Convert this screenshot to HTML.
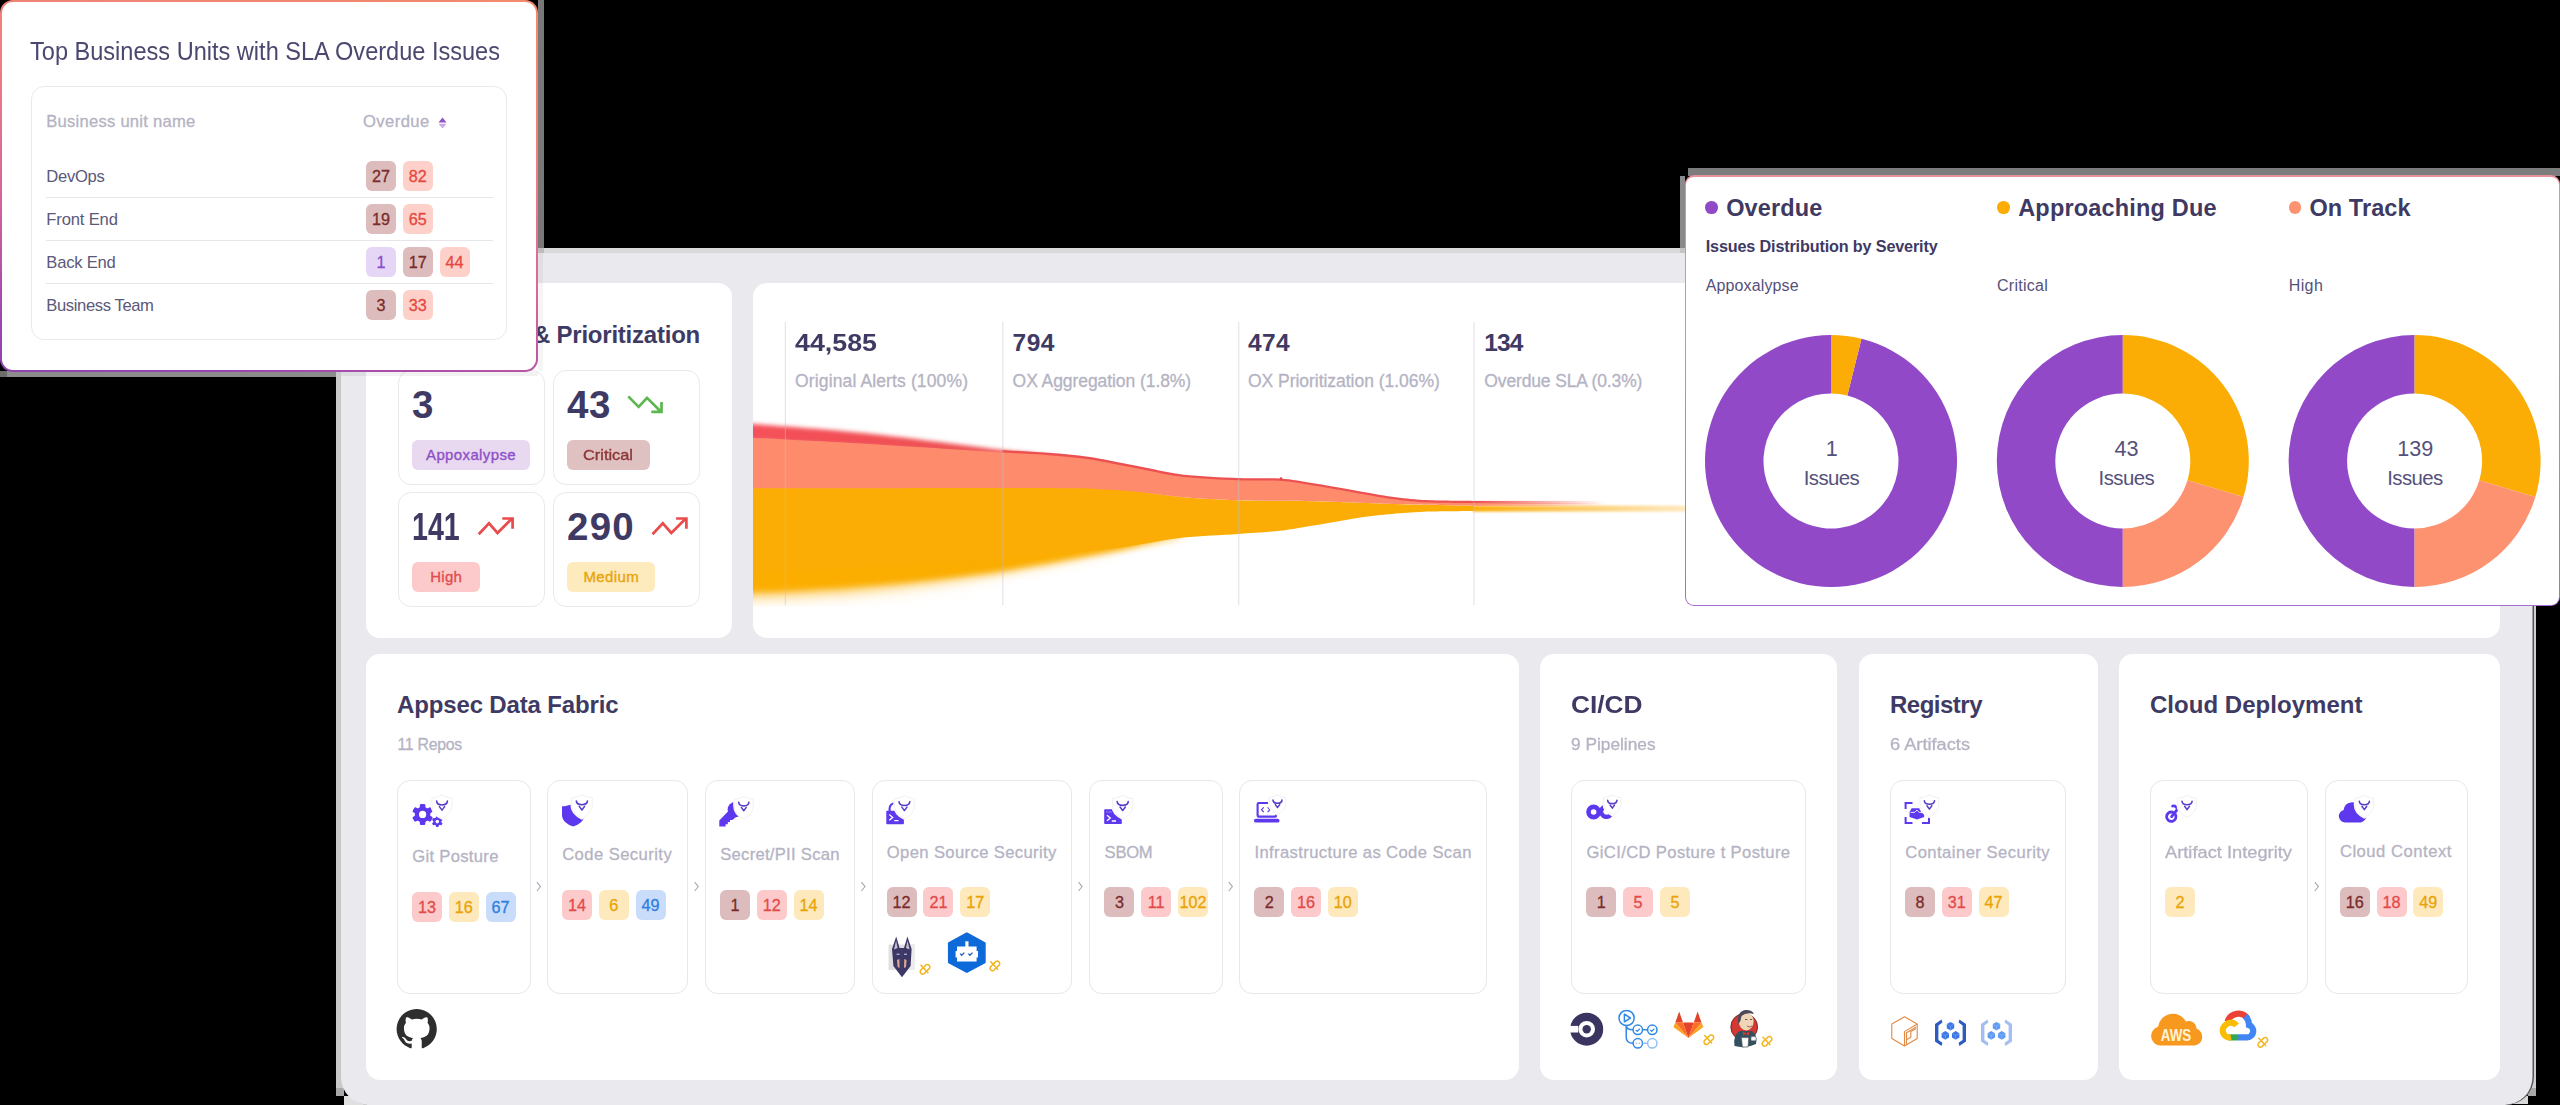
<!DOCTYPE html>
<html><head><meta charset="utf-8"><title>Dashboard</title>
<style>
html,body{margin:0;padding:0;background:#000;}
body{width:2560px;height:1105px;position:relative;overflow:hidden;font-family:"Liberation Sans",sans-serif;}
.t{position:absolute;white-space:nowrap;}
.b{position:absolute;}
.bd{position:absolute;border-radius:6px;text-align:center;}
svg{position:absolute;overflow:visible;}
</style></head><body>
<div class="b" style="left:336.0px;top:248.0px;width:14.0px;height:839.7px;background:#c9c9c9;"></div>
<div class="b" style="left:336.0px;top:1087.7px;width:7.5px;height:8.0px;background:#a8a8a8;"></div>
<div class="b" style="left:343.5px;top:1095.6px;width:28.0px;height:9.4px;background:#e0e0e0;"></div>
<div class="b" style="left:2522.0px;top:248.0px;width:14.0px;height:839.7px;background:#d0d0d0;"></div>
<div class="b" style="left:2528.0px;top:1087.7px;width:8.0px;height:8.0px;background:#a8a8a8;"></div>
<div class="b" style="left:2502.0px;top:1095.7px;width:26.0px;height:8.0px;background:#d8d8d8;"></div>
<div class="b" style="left:341.0px;top:248.0px;width:2193.5px;height:5.0px;background:#d9d9d9;"></div>
<div class="b" style="left:341.0px;top:252.5px;width:2193.0px;height:852.5px;background:#e9e9ee;border-radius:0 0 28px 28px;box-shadow:inset -1.5px 0 0 #55555a;"></div>
<div class="b" style="left:366.0px;top:283.0px;width:366.0px;height:355.0px;background:#fff;border-radius:14px;"></div>
<div class="t" style="left:533.0px;top:323.00px;font-size:24px;line-height:24px;color:#3e3a63;font-weight:bold;letter-spacing:-0.230px;">&amp; Prioritization</div>
<div class="b" style="left:397.5px;top:370.0px;width:147.5px;height:114.5px;background:#fff;border-radius:13px;border:1.5px solid #e9e9ee;box-sizing:border-box;"></div>
<div class="t" style="left:412.1px;top:386.00px;font-size:38.5px;line-height:38.5px;color:#3e3a63;font-weight:bold;letter-spacing:-1.413px;">3</div>
<div class="b" style="left:412.0px;top:439.5px;width:118.0px;height:30.0px;background:#e8d8f0;border-radius:6px;"></div>
<div class="t" style="left:426.0px;top:447.00px;font-size:15px;line-height:15px;color:#8f50c8;letter-spacing:0.373px;-webkit-text-stroke:0.35px #8f50c8;">Appoxalypse</div>
<div class="b" style="left:552.5px;top:370.0px;width:147.5px;height:114.5px;background:#fff;border-radius:13px;border:1.5px solid #e9e9ee;box-sizing:border-box;"></div>
<div class="t" style="left:567.1px;top:386.00px;font-size:38.5px;line-height:38.5px;color:#3e3a63;font-weight:bold;letter-spacing:0.387px;">43</div>
<div class="b" style="left:567.0px;top:439.5px;width:82.7px;height:30.0px;background:#e0c1c1;border-radius:6px;"></div>
<div class="t" style="left:583.4px;top:447.00px;font-size:15px;line-height:15px;color:#8b3636;transform:scaleX(1.0908);transform-origin:left center;-webkit-text-stroke:0.35px #8b3636;">Critical</div>
<div class="b" style="left:397.5px;top:492.0px;width:147.5px;height:114.5px;background:#fff;border-radius:13px;border:1.5px solid #e9e9ee;box-sizing:border-box;"></div>
<div class="t" style="left:412.1px;top:508.00px;font-size:38.5px;line-height:38.5px;color:#3e3a63;font-weight:bold;transform:scaleX(0.7441);transform-origin:left center;">141</div>
<div class="b" style="left:412.0px;top:561.5px;width:68.4px;height:30.0px;background:#fccaca;border-radius:6px;"></div>
<div class="t" style="left:430.2px;top:569.00px;font-size:15px;line-height:15px;color:#e14c4c;letter-spacing:0.287px;-webkit-text-stroke:0.35px #e14c4c;">High</div>
<div class="b" style="left:552.5px;top:492.0px;width:147.5px;height:114.5px;background:#fff;border-radius:13px;border:1.5px solid #e9e9ee;box-sizing:border-box;"></div>
<div class="t" style="left:567.1px;top:508.00px;font-size:38.5px;line-height:38.5px;color:#3e3a63;font-weight:bold;letter-spacing:1.187px;">290</div>
<div class="b" style="left:567.0px;top:561.5px;width:88.4px;height:30.0px;background:#fdeabd;border-radius:6px;"></div>
<div class="t" style="left:583.4px;top:569.00px;font-size:15px;line-height:15px;color:#e9a408;letter-spacing:0.391px;-webkit-text-stroke:0.35px #e9a408;">Medium</div>
<svg style="left:0;top:0" width="2560" height="1105" viewBox="0 0 2560 1105"><path d="M628.3 396.4 l10.3 10.5 l8.4 -9 l14 13.9 M651.3 411.79999999999995 h10.2 v-9.8" fill="none" stroke="#5cb84e" stroke-width="2.7" stroke-linejoin="miter"/><path d="M478.7 534.2 l10.3 -10.9 l8.5 9.7 l14.5 -14.5 M502.3 518.5 h10.3 v10.2" fill="none" stroke="#e84c4c" stroke-width="2.7" stroke-linejoin="miter"/><path d="M652.5 534.2 l10.3 -10.9 l8.5 9.7 l14.5 -14.5 M676.1 518.5 h10.3 v10.2" fill="none" stroke="#e84c4c" stroke-width="2.7" stroke-linejoin="miter"/></svg>
<div class="b" style="left:753.0px;top:283.0px;width:1747.0px;height:355.0px;background:#fff;border-radius:14px;"></div>
<div class="t" style="left:795.1px;top:331.00px;font-size:24.5px;line-height:24.5px;color:#3e3a63;font-weight:bold;transform:scaleX(1.0942);transform-origin:left center;">44,585</div>
<div class="t" style="left:795.1px;top:373.00px;font-size:17.5px;line-height:17.5px;color:#b4b3c3;letter-spacing:0.127px;-webkit-text-stroke:0.3px #b4b3c3;">Original Alerts (100%)</div>
<div class="t" style="left:1012.6px;top:331.00px;font-size:24.5px;line-height:24.5px;color:#3e3a63;font-weight:bold;letter-spacing:0.507px;">794</div>
<div class="t" style="left:1012.6px;top:373.00px;font-size:17.5px;line-height:17.5px;color:#b4b3c3;letter-spacing:-0.070px;-webkit-text-stroke:0.3px #b4b3c3;">OX Aggregation (1.8%)</div>
<div class="t" style="left:1248.0px;top:331.00px;font-size:24.5px;line-height:24.5px;color:#3e3a63;font-weight:bold;letter-spacing:0.374px;">474</div>
<div class="t" style="left:1248.0px;top:373.00px;font-size:17.5px;line-height:17.5px;color:#b4b3c3;letter-spacing:-0.035px;-webkit-text-stroke:0.3px #b4b3c3;">OX Prioritization (1.06%)</div>
<div class="t" style="left:1484.3px;top:331.00px;font-size:24.5px;line-height:24.5px;color:#3e3a63;font-weight:bold;letter-spacing:-0.893px;">134</div>
<div class="t" style="left:1484.3px;top:373.00px;font-size:17.5px;line-height:17.5px;color:#b4b3c3;letter-spacing:-0.139px;-webkit-text-stroke:0.3px #b4b3c3;">Overdue SLA (0.3%)</div>
<div class="b" style="left:366.0px;top:653.5px;width:1153.0px;height:426.5px;background:#fff;border-radius:14px;"></div>
<div class="b" style="left:1540.0px;top:653.5px;width:297.0px;height:426.5px;background:#fff;border-radius:14px;"></div>
<div class="b" style="left:1859.0px;top:653.5px;width:238.5px;height:426.5px;background:#fff;border-radius:14px;"></div>
<div class="b" style="left:2119.3px;top:653.5px;width:380.7px;height:426.5px;background:#fff;border-radius:14px;"></div>
<div class="t" style="left:397.0px;top:693.00px;font-size:24px;line-height:24px;color:#3e3a63;font-weight:bold;letter-spacing:-0.143px;">Appsec Data Fabric</div>
<div class="t" style="left:397.5px;top:737.00px;font-size:15.8px;line-height:15.8px;color:#b4b3c3;letter-spacing:-0.246px;-webkit-text-stroke:0.3px #b4b3c3;">11 Repos</div>
<div class="t" style="left:1571.3px;top:693.00px;font-size:24px;line-height:24px;color:#3e3a63;font-weight:bold;transform:scaleX(1.0959);transform-origin:left center;">CI/CD</div>
<div class="t" style="left:1571.3px;top:737.00px;font-size:15.8px;line-height:15.8px;color:#b4b3c3;transform:scaleX(1.0945);transform-origin:left center;-webkit-text-stroke:0.3px #b4b3c3;">9 Pipelines</div>
<div class="t" style="left:1890.0px;top:693.00px;font-size:24px;line-height:24px;color:#3e3a63;font-weight:bold;letter-spacing:-0.505px;">Registry</div>
<div class="t" style="left:1890.0px;top:737.00px;font-size:15.8px;line-height:15.8px;color:#b4b3c3;transform:scaleX(1.1532);transform-origin:left center;-webkit-text-stroke:0.3px #b4b3c3;">6 Artifacts</div>
<div class="t" style="left:2150.0px;top:693.00px;font-size:24px;line-height:24px;color:#3e3a63;font-weight:bold;letter-spacing:0.037px;">Cloud Deployment</div>
<div class="b" style="left:397.0px;top:779.7px;width:133.7px;height:214.0px;background:#fff;border-radius:13px;border:1.5px solid #e7e7ec;box-sizing:border-box;"></div>
<div class="t" style="left:412.2px;top:849.00px;font-size:16.6px;line-height:16.6px;color:#b4b3c3;letter-spacing:0.324px;-webkit-text-stroke:0.3px #b4b3c3;">Git Posture</div>
<div class="bd" style="left:412.0px;top:891.5px;width:30px;height:30px;line-height:31.6px;background:#fccaca;color:#e24a4a;font-size:16.2px;-webkit-text-stroke:0.3px #e24a4a">13</div>
<div class="bd" style="left:448.8px;top:891.5px;width:30px;height:30px;line-height:31.6px;background:#fde9bb;color:#e9a306;font-size:16.2px;-webkit-text-stroke:0.3px #e9a306">16</div>
<div class="bd" style="left:485.6px;top:891.5px;width:30px;height:30px;line-height:31.6px;background:#c9dcfa;color:#2e7fe0;font-size:16.2px;-webkit-text-stroke:0.3px #2e7fe0">67</div>
<div class="b" style="left:547.0px;top:779.7px;width:141.0px;height:214.0px;background:#fff;border-radius:13px;border:1.5px solid #e7e7ec;box-sizing:border-box;"></div>
<div class="t" style="left:562.2px;top:847.00px;font-size:16.6px;line-height:16.6px;color:#b4b3c3;letter-spacing:0.441px;-webkit-text-stroke:0.3px #b4b3c3;">Code Security</div>
<div class="bd" style="left:562.0px;top:890.0px;width:30px;height:30px;line-height:31.6px;background:#fccaca;color:#e24a4a;font-size:16.2px;-webkit-text-stroke:0.3px #e24a4a">14</div>
<div class="bd" style="left:598.8px;top:890.0px;width:30px;height:30px;line-height:31.6px;background:#fde9bb;color:#e9a306;font-size:16.2px;-webkit-text-stroke:0.3px #e9a306">6</div>
<div class="bd" style="left:635.6px;top:890.0px;width:30px;height:30px;line-height:31.6px;background:#c9dcfa;color:#2e7fe0;font-size:16.2px;-webkit-text-stroke:0.3px #2e7fe0">49</div>
<div class="b" style="left:705.0px;top:779.7px;width:149.7px;height:214.0px;background:#fff;border-radius:13px;border:1.5px solid #e7e7ec;box-sizing:border-box;"></div>
<div class="t" style="left:720.2px;top:847.00px;font-size:16.6px;line-height:16.6px;color:#b4b3c3;letter-spacing:0.284px;-webkit-text-stroke:0.3px #b4b3c3;">Secret/PII Scan</div>
<div class="bd" style="left:720.0px;top:890.0px;width:30px;height:30px;line-height:31.6px;background:#dcbcbc;color:#7b2b2b;font-size:16.2px;-webkit-text-stroke:0.3px #7b2b2b">1</div>
<div class="bd" style="left:756.8px;top:890.0px;width:30px;height:30px;line-height:31.6px;background:#fccaca;color:#e24a4a;font-size:16.2px;-webkit-text-stroke:0.3px #e24a4a">12</div>
<div class="bd" style="left:793.6px;top:890.0px;width:30px;height:30px;line-height:31.6px;background:#fde9bb;color:#e9a306;font-size:16.2px;-webkit-text-stroke:0.3px #e9a306">14</div>
<div class="b" style="left:871.6px;top:779.7px;width:200.9px;height:214.0px;background:#fff;border-radius:13px;border:1.5px solid #e7e7ec;box-sizing:border-box;"></div>
<div class="t" style="left:886.8px;top:845.00px;font-size:16.6px;line-height:16.6px;color:#b4b3c3;letter-spacing:0.380px;-webkit-text-stroke:0.3px #b4b3c3;">Open Source Security</div>
<div class="bd" style="left:886.6px;top:887.0px;width:30px;height:30px;line-height:31.6px;background:#dcbcbc;color:#7b2b2b;font-size:16.2px;-webkit-text-stroke:0.3px #7b2b2b">12</div>
<div class="bd" style="left:923.4px;top:887.0px;width:30px;height:30px;line-height:31.6px;background:#fccaca;color:#e24a4a;font-size:16.2px;-webkit-text-stroke:0.3px #e24a4a">21</div>
<div class="bd" style="left:960.2px;top:887.0px;width:30px;height:30px;line-height:31.6px;background:#fde9bb;color:#e9a306;font-size:16.2px;-webkit-text-stroke:0.3px #e9a306">17</div>
<div class="b" style="left:1089.4px;top:779.7px;width:133.4px;height:214.0px;background:#fff;border-radius:13px;border:1.5px solid #e7e7ec;box-sizing:border-box;"></div>
<div class="t" style="left:1104.6px;top:845.00px;font-size:16.6px;line-height:16.6px;color:#b4b3c3;letter-spacing:-0.271px;-webkit-text-stroke:0.3px #b4b3c3;">SBOM</div>
<div class="bd" style="left:1104.4px;top:887.0px;width:30px;height:30px;line-height:31.6px;background:#dcbcbc;color:#7b2b2b;font-size:16.2px;-webkit-text-stroke:0.3px #7b2b2b">3</div>
<div class="bd" style="left:1141.2px;top:887.0px;width:30px;height:30px;line-height:31.6px;background:#fccaca;color:#e24a4a;font-size:16.2px;-webkit-text-stroke:0.3px #e24a4a">11</div>
<div class="bd" style="left:1178.0px;top:887.0px;width:30px;height:30px;line-height:31.6px;background:#fde9bb;color:#e9a306;font-size:16.2px;-webkit-text-stroke:0.3px #e9a306">102</div>
<div class="b" style="left:1239.2px;top:779.7px;width:248.3px;height:214.0px;background:#fff;border-radius:13px;border:1.5px solid #e7e7ec;box-sizing:border-box;"></div>
<div class="t" style="left:1254.4px;top:845.00px;font-size:16.6px;line-height:16.6px;color:#b4b3c3;letter-spacing:0.401px;-webkit-text-stroke:0.3px #b4b3c3;">Infrastructure as Code Scan</div>
<div class="bd" style="left:1254.2px;top:887.0px;width:30px;height:30px;line-height:31.6px;background:#dcbcbc;color:#7b2b2b;font-size:16.2px;-webkit-text-stroke:0.3px #7b2b2b">2</div>
<div class="bd" style="left:1291.0px;top:887.0px;width:30px;height:30px;line-height:31.6px;background:#fccaca;color:#e24a4a;font-size:16.2px;-webkit-text-stroke:0.3px #e24a4a">16</div>
<div class="bd" style="left:1327.8px;top:887.0px;width:30px;height:30px;line-height:31.6px;background:#fde9bb;color:#e9a306;font-size:16.2px;-webkit-text-stroke:0.3px #e9a306">10</div>
<div class="b" style="left:1571.3px;top:779.7px;width:234.3px;height:214.0px;background:#fff;border-radius:13px;border:1.5px solid #e7e7ec;box-sizing:border-box;"></div>
<div class="t" style="left:1586.5px;top:845.00px;font-size:16.6px;line-height:16.6px;color:#b4b3c3;letter-spacing:0.374px;-webkit-text-stroke:0.3px #b4b3c3;">GiCI/CD Posture t Posture</div>
<div class="bd" style="left:1586.3px;top:887.0px;width:30px;height:30px;line-height:31.6px;background:#dcbcbc;color:#7b2b2b;font-size:16.2px;-webkit-text-stroke:0.3px #7b2b2b">1</div>
<div class="bd" style="left:1623.1px;top:887.0px;width:30px;height:30px;line-height:31.6px;background:#fccaca;color:#e24a4a;font-size:16.2px;-webkit-text-stroke:0.3px #e24a4a">5</div>
<div class="bd" style="left:1659.9px;top:887.0px;width:30px;height:30px;line-height:31.6px;background:#fde9bb;color:#e9a306;font-size:16.2px;-webkit-text-stroke:0.3px #e9a306">5</div>
<div class="b" style="left:1890.0px;top:779.7px;width:176.0px;height:214.0px;background:#fff;border-radius:13px;border:1.5px solid #e7e7ec;box-sizing:border-box;"></div>
<div class="t" style="left:1905.2px;top:845.00px;font-size:16.6px;line-height:16.6px;color:#b4b3c3;letter-spacing:0.469px;-webkit-text-stroke:0.3px #b4b3c3;">Container Security</div>
<div class="bd" style="left:1905.0px;top:887.0px;width:30px;height:30px;line-height:31.6px;background:#dcbcbc;color:#7b2b2b;font-size:16.2px;-webkit-text-stroke:0.3px #7b2b2b">8</div>
<div class="bd" style="left:1941.8px;top:887.0px;width:30px;height:30px;line-height:31.6px;background:#fccaca;color:#e24a4a;font-size:16.2px;-webkit-text-stroke:0.3px #e24a4a">31</div>
<div class="bd" style="left:1978.6px;top:887.0px;width:30px;height:30px;line-height:31.6px;background:#fde9bb;color:#e9a306;font-size:16.2px;-webkit-text-stroke:0.3px #e9a306">47</div>
<div class="b" style="left:2150.0px;top:779.7px;width:158.0px;height:214.0px;background:#fff;border-radius:13px;border:1.5px solid #e7e7ec;box-sizing:border-box;"></div>
<div class="t" style="left:2165.2px;top:845.00px;font-size:16.6px;line-height:16.6px;color:#b4b3c3;transform:scaleX(1.1013);transform-origin:left center;-webkit-text-stroke:0.3px #b4b3c3;">Artifact Integrity</div>
<div class="bd" style="left:2165.0px;top:887.0px;width:30px;height:30px;line-height:31.6px;background:#fde9bb;color:#e9a306;font-size:16.2px;-webkit-text-stroke:0.3px #e9a306">2</div>
<div class="b" style="left:2324.7px;top:779.7px;width:143.8px;height:214.0px;background:#fff;border-radius:13px;border:1.5px solid #e7e7ec;box-sizing:border-box;"></div>
<div class="t" style="left:2339.9px;top:844.00px;font-size:16.6px;line-height:16.6px;color:#b4b3c3;letter-spacing:0.523px;-webkit-text-stroke:0.3px #b4b3c3;">Cloud Context</div>
<div class="bd" style="left:2339.7px;top:886.5px;width:30px;height:30px;line-height:31.6px;background:#dcbcbc;color:#7b2b2b;font-size:16.2px;-webkit-text-stroke:0.3px #7b2b2b">16</div>
<div class="bd" style="left:2376.5px;top:886.5px;width:30px;height:30px;line-height:31.6px;background:#fccaca;color:#e24a4a;font-size:16.2px;-webkit-text-stroke:0.3px #e24a4a">18</div>
<div class="bd" style="left:2413.3px;top:886.5px;width:30px;height:30px;line-height:31.6px;background:#fde9bb;color:#e9a306;font-size:16.2px;-webkit-text-stroke:0.3px #e9a306">49</div>
<svg style="left:0;top:0" width="2560" height="1105" viewBox="0 0 2560 1105"><path d="M536.9 882.2 l3.6 4.4 l-3.6 4.4" fill="none" stroke="#a9a9b4" stroke-width="1.1"/><path d="M694.7 882.2 l3.6 4.4 l-3.6 4.4" fill="none" stroke="#a9a9b4" stroke-width="1.1"/><path d="M861.4 882.2 l3.6 4.4 l-3.6 4.4" fill="none" stroke="#a9a9b4" stroke-width="1.1"/><path d="M1078.5 882.2 l3.6 4.4 l-3.6 4.4" fill="none" stroke="#a9a9b4" stroke-width="1.1"/><path d="M1228.8 882.2 l3.6 4.4 l-3.6 4.4" fill="none" stroke="#a9a9b4" stroke-width="1.1"/><path d="M2314.8 882.2 l3.6 4.4 l-3.6 4.4" fill="none" stroke="#a9a9b4" stroke-width="1.1"/></svg>
<svg style="left:0;top:0" width="2560" height="1105" viewBox="0 0 2560 1105"><defs>
<filter id="bl6" x="-5%" y="-40%" width="110%" height="180%"><feGaussianBlur stdDeviation="11"/></filter>
<filter id="bl5" x="-5%" y="-40%" width="110%" height="180%"><feGaussianBlur stdDeviation="6.5"/></filter>
<filter id="bl3" x="-5%" y="-30%" width="110%" height="160%"><feGaussianBlur stdDeviation="3.2"/></filter>
<filter id="bl2" x="-5%" y="-50%" width="110%" height="200%"><feGaussianBlur stdDeviation="2.2"/></filter>
<filter id="bl1" x="-5%" y="-50%" width="110%" height="200%"><feGaussianBlur stdDeviation="0.8"/></filter>
<linearGradient id="mgA" x1="840" x2="1010" gradientUnits="userSpaceOnUse"><stop offset="0" stop-color="#fff"/><stop offset="1" stop-color="#000"/></linearGradient>
<linearGradient id="mgB" x1="1130" x2="1200" gradientUnits="userSpaceOnUse"><stop offset="0" stop-color="#fff"/><stop offset="1" stop-color="#000"/></linearGradient>
<mask id="mA" maskUnits="userSpaceOnUse" x="700" y="380" width="1000" height="280"><rect x="700" y="380" width="1000" height="280" fill="url(#mgA)"/></mask>
<linearGradient id="mgC" x1="1000" x2="1130" gradientUnits="userSpaceOnUse"><stop offset="0" stop-color="#fff"/><stop offset="1" stop-color="#000"/></linearGradient>
<mask id="mC" maskUnits="userSpaceOnUse" x="700" y="380" width="1000" height="280"><rect x="700" y="380" width="1000" height="280" fill="url(#mgC)"/></mask>
<mask id="mB" maskUnits="userSpaceOnUse" x="700" y="380" width="1000" height="280"><rect x="700" y="380" width="1000" height="280" fill="url(#mgB)"/></mask>
<clipPath id="cpAll"><rect x="753" y="400" width="940" height="206.5"/></clipPath>
<linearGradient id="fadeO" x1="1474" x2="1690" gradientUnits="userSpaceOnUse"><stop offset="0" stop-color="#fbad05" stop-opacity="1"/><stop offset="0.35" stop-color="#fbb526" stop-opacity="0.8"/><stop offset="1" stop-color="#fcc24d" stop-opacity="0.35"/></linearGradient>
<linearGradient id="fadeR" x1="1474" x2="1605" gradientUnits="userSpaceOnUse"><stop offset="0" stop-color="#ec5050" stop-opacity="1"/><stop offset="1" stop-color="#ec5050" stop-opacity="0"/></linearGradient>
<linearGradient id="fadeS" x1="1474" x2="1605" gradientUnits="userSpaceOnUse"><stop offset="0" stop-color="#fe8c6c" stop-opacity="1"/><stop offset="1" stop-color="#fe8c6c" stop-opacity="0"/></linearGradient>
<linearGradient id="redw" x1="753" x2="1010" gradientUnits="userSpaceOnUse"><stop offset="0" stop-color="#f5515a"/><stop offset="1" stop-color="#ec4f4f"/></linearGradient>
</defs><g clip-path="url(#cpAll)"><g mask="url(#mB)"><path d="M715.0 474.2 C721.3 474.2 722.2 474.2 753.0 474.2 C783.8 474.2 848.8 474.2 900.0 474.2 C951.2 474.2 1026.7 474.0 1060.0 474.2 C1093.3 474.4 1086.7 474.6 1100.0 475.2 C1113.3 475.8 1126.0 476.6 1140.0 478.0 C1154.0 479.4 1176.7 482.4 1184.0 483.3 L1184.0 538.5 C1176.7 539.8 1154.0 543.9 1140.0 546.5 C1126.0 549.1 1123.0 550.1 1100.0 554.0 C1077.0 557.9 1035.3 565.4 1002.0 570.0 C968.7 574.6 936.2 578.3 900.0 581.5 C863.8 584.7 809.5 587.6 785.0 589.0 C760.5 590.4 764.7 589.6 753.0 590.0 C741.3 590.4 721.3 591.0 715.0 591.2Z" fill="#fbad05" filter="url(#bl3)"/></g><g mask="url(#mC)"><path d="M715.0 474.2 C721.3 474.2 722.2 474.2 753.0 474.2 C783.8 474.2 848.8 474.2 900.0 474.2 C951.2 474.2 1026.7 474.0 1060.0 474.2 C1093.3 474.4 1086.7 474.6 1100.0 475.2 C1113.3 475.8 1126.0 476.6 1140.0 478.0 C1154.0 479.4 1176.7 482.4 1184.0 483.3 L1184.0 538.5 C1176.7 539.8 1154.0 543.9 1140.0 546.5 C1126.0 549.1 1123.0 550.1 1100.0 554.0 C1077.0 557.9 1035.3 565.4 1002.0 570.0 C968.7 574.6 936.2 578.3 900.0 581.5 C863.8 584.7 809.5 587.6 785.0 589.0 C760.5 590.4 764.7 589.6 753.0 590.0 C741.3 590.4 721.3 591.0 715.0 591.2Z" fill="#fbad05" filter="url(#bl5)"/></g><g mask="url(#mA)"><path d="M715.0 474.2 C721.3 474.2 722.2 474.2 753.0 474.2 C783.8 474.2 848.8 474.2 900.0 474.2 C951.2 474.2 1026.7 474.0 1060.0 474.2 C1093.3 474.4 1086.7 474.6 1100.0 475.2 C1113.3 475.8 1126.0 476.6 1140.0 478.0 C1154.0 479.4 1176.7 482.4 1184.0 483.3 L1184.0 538.5 C1176.7 539.8 1154.0 543.9 1140.0 546.5 C1126.0 549.1 1123.0 550.1 1100.0 554.0 C1077.0 557.9 1035.3 565.4 1002.0 570.0 C968.7 574.6 936.2 578.3 900.0 581.5 C863.8 584.7 809.5 587.6 785.0 589.0 C760.5 590.4 764.7 589.6 753.0 590.0 C741.3 590.4 721.3 591.0 715.0 591.2Z" fill="#fbad05" filter="url(#bl6)"/></g><path d="M753.0 488.2 C777.5 488.2 848.8 488.2 900.0 488.2 C951.2 488.2 1026.7 488.0 1060.0 488.2 C1093.3 488.4 1086.7 488.6 1100.0 489.2 C1113.3 489.8 1126.0 490.6 1140.0 492.0 C1154.0 493.4 1167.7 495.9 1184.0 497.3 C1200.3 498.7 1216.2 499.5 1238.0 500.2 C1259.8 500.9 1294.8 500.9 1315.0 501.3 C1335.2 501.7 1344.5 502.3 1359.0 502.8 C1373.5 503.3 1387.5 503.9 1402.0 504.3 C1416.5 504.7 1434.0 505.0 1446.0 505.2 C1458.0 505.4 1469.3 505.5 1474.0 505.6 L1474.0 511.1 C1465.7 511.2 1437.7 511.3 1424.0 511.8 C1410.3 512.3 1402.8 513.0 1392.0 514.0 C1381.2 515.0 1371.8 515.8 1359.0 517.7 C1346.2 519.6 1328.2 523.1 1315.0 525.3 C1301.8 527.5 1292.8 529.3 1280.0 530.8 C1267.2 532.2 1254.0 532.9 1238.0 534.0 C1222.0 535.1 1200.3 535.9 1184.0 537.6 C1167.7 539.4 1154.0 542.4 1140.0 544.5 C1126.0 546.6 1123.0 547.7 1100.0 550.0 C1077.0 552.3 1035.3 556.0 1002.0 558.5 C968.7 561.0 936.2 562.9 900.0 565.0 C863.8 567.1 809.5 569.8 785.0 571.0 C760.5 572.2 758.3 571.8 753.0 572.0Z" fill="#fbad05"/><rect x="1473" y="505.6" width="213" height="6" fill="url(#fadeO)" filter="url(#bl1)"/><path d="M715.0 421.3 C721.3 421.7 741.3 423.2 753.0 424.0 C764.7 424.8 764.3 424.6 785.0 426.3 C805.7 428.1 840.8 430.6 877.0 434.5 C913.2 438.4 971.5 446.3 1002.0 450.0 C1032.5 453.7 1050.3 455.6 1060.0 456.7 L1048.0 458.2 C1040.3 457.8 1030.5 457.3 1002.0 455.5 C973.5 453.7 913.2 449.7 877.0 447.5 C840.8 445.3 805.7 443.6 785.0 442.5 C764.3 441.4 764.7 441.5 753.0 441.0 C741.3 440.5 721.3 439.5 715.0 439.2Z" fill="url(#redw)" filter="url(#bl2)"/><path d="M1002.0 450.0 C1009.7 450.5 1033.7 451.7 1048.0 452.8 C1062.3 453.9 1076.3 455.2 1088.0 456.8 C1099.7 458.4 1107.7 460.3 1118.0 462.3 C1128.3 464.3 1139.0 466.5 1150.0 468.6 C1161.0 470.7 1169.3 473.2 1184.0 474.8 C1198.7 476.4 1222.0 477.5 1238.0 478.1 C1254.0 478.7 1267.2 477.7 1280.0 478.6 C1292.8 479.5 1301.8 481.5 1315.0 483.6 C1328.2 485.7 1346.2 489.1 1359.0 491.3 C1371.8 493.5 1381.2 495.4 1392.0 496.8 C1402.8 498.2 1410.3 499.3 1424.0 500.0 C1437.7 500.7 1465.7 500.8 1474.0 500.9 L1474.0 504.0 C1465.7 503.9 1437.7 503.9 1424.0 503.2 C1410.3 502.5 1402.8 501.4 1392.0 500.0 C1381.2 498.6 1371.8 496.7 1359.0 494.5 C1346.2 492.3 1328.2 488.9 1315.0 486.8 C1301.8 484.7 1292.8 482.7 1280.0 481.8 C1267.2 480.9 1254.0 481.9 1238.0 481.3 C1222.0 480.7 1198.7 479.6 1184.0 478.0 C1169.3 476.4 1161.0 474.1 1150.0 472.0 C1139.0 469.9 1128.3 467.7 1118.0 465.7 C1107.7 463.7 1099.7 461.8 1088.0 460.2 C1076.3 458.6 1062.3 457.3 1048.0 456.2 C1033.7 455.1 1009.7 453.9 1002.0 453.5Z" fill="#ec5050"/><rect x="1473" y="500.9" width="132" height="3" fill="url(#fadeR)"/><path d="M753.0 438.0 C758.3 438.2 764.3 438.4 785.0 439.5 C805.7 440.6 840.8 442.3 877.0 444.5 C913.2 446.7 973.5 450.7 1002.0 452.5 C1030.5 454.3 1033.7 454.1 1048.0 455.2 C1062.3 456.3 1076.3 457.6 1088.0 459.2 C1099.7 460.8 1107.7 462.7 1118.0 464.7 C1128.3 466.7 1139.0 468.9 1150.0 471.0 C1161.0 473.1 1169.3 475.4 1184.0 477.0 C1198.7 478.6 1222.0 479.7 1238.0 480.3 C1254.0 480.9 1267.2 479.9 1280.0 480.8 C1292.8 481.7 1301.8 483.7 1315.0 485.8 C1328.2 487.9 1346.2 491.3 1359.0 493.5 C1371.8 495.7 1381.2 497.6 1392.0 499.0 C1402.8 500.4 1410.3 501.5 1424.0 502.2 C1437.7 502.9 1465.7 502.9 1474.0 503.0 L1474.0 505.6 C1469.3 505.5 1458.0 505.4 1446.0 505.2 C1434.0 505.0 1416.5 504.7 1402.0 504.3 C1387.5 503.9 1373.5 503.3 1359.0 502.8 C1344.5 502.3 1335.2 501.7 1315.0 501.3 C1294.8 500.9 1259.8 500.9 1238.0 500.2 C1216.2 499.5 1200.3 498.7 1184.0 497.3 C1167.7 495.9 1154.0 493.4 1140.0 492.0 C1126.0 490.6 1113.3 489.8 1100.0 489.2 C1086.7 488.6 1093.3 488.4 1060.0 488.2 C1026.7 488.0 951.2 488.2 900.0 488.2 C848.8 488.2 777.5 488.2 753.0 488.2Z" fill="#fe8c6c"/><rect x="1473" y="503" width="132" height="2.8" fill="url(#fadeS)"/><circle cx="1281" cy="478.6" r="1.3" fill="#e04848"/></g><rect x="784.8" y="322" width="1.2" height="283" fill="#bfbfcc" opacity="0.42"/><rect x="1002.1999999999999" y="322" width="1.2" height="283" fill="#bfbfcc" opacity="0.42"/><rect x="1238.1000000000001" y="322" width="1.2" height="283" fill="#bfbfcc" opacity="0.42"/><rect x="1473.4" y="322" width="1.2" height="283" fill="#bfbfcc" opacity="0.42"/></svg>
<svg style="left:0;top:0" width="2560" height="1105" viewBox="0 0 2560 1105"><circle cx="422.6" cy="814.4" r="7.77" fill="#5d38ee"/><rect x="419.87" y="803.90" width="5.46" height="6.30" rx="1.26" fill="#5d38ee" transform="rotate(0.0 422.6 814.4)"/><rect x="419.87" y="803.90" width="5.46" height="6.30" rx="1.26" fill="#5d38ee" transform="rotate(60.0 422.6 814.4)"/><rect x="419.87" y="803.90" width="5.46" height="6.30" rx="1.26" fill="#5d38ee" transform="rotate(120.0 422.6 814.4)"/><rect x="419.87" y="803.90" width="5.46" height="6.30" rx="1.26" fill="#5d38ee" transform="rotate(180.0 422.6 814.4)"/><rect x="419.87" y="803.90" width="5.46" height="6.30" rx="1.26" fill="#5d38ee" transform="rotate(240.0 422.6 814.4)"/><rect x="419.87" y="803.90" width="5.46" height="6.30" rx="1.26" fill="#5d38ee" transform="rotate(300.0 422.6 814.4)"/><circle cx="422.6" cy="814.4" r="3.6" fill="#fff"/><circle cx="437.3" cy="821.6" r="4.00" fill="#5d38ee"/><rect x="435.90" y="816.20" width="2.81" height="3.24" rx="0.65" fill="#5d38ee" transform="rotate(0.0 437.3 821.6)"/><rect x="435.90" y="816.20" width="2.81" height="3.24" rx="0.65" fill="#5d38ee" transform="rotate(60.0 437.3 821.6)"/><rect x="435.90" y="816.20" width="2.81" height="3.24" rx="0.65" fill="#5d38ee" transform="rotate(120.0 437.3 821.6)"/><rect x="435.90" y="816.20" width="2.81" height="3.24" rx="0.65" fill="#5d38ee" transform="rotate(180.0 437.3 821.6)"/><rect x="435.90" y="816.20" width="2.81" height="3.24" rx="0.65" fill="#5d38ee" transform="rotate(240.0 437.3 821.6)"/><rect x="435.90" y="816.20" width="2.81" height="3.24" rx="0.65" fill="#5d38ee" transform="rotate(300.0 437.3 821.6)"/><circle cx="437.3" cy="821.6" r="1.8" fill="#fff"/><path d="M442.00 794.70 C445.20 796.84 449.00 797.79 452.00 797.91 L452.00 805.17 C452.00 811.84 446.80 816.12 442.00 818.50 C437.20 816.12 432.00 811.84 432.00 805.17 L432.00 797.91 C435.00 797.79 438.80 796.84 442.00 794.70Z" fill="#fff" stroke="#fff" stroke-width="2.4"/><path d="M442.00 794.70 C445.20 796.84 449.00 797.79 452.00 797.91 L452.00 805.17 C452.00 811.84 446.80 816.12 442.00 818.50 C437.20 816.12 432.00 811.84 432.00 805.17 L432.00 797.91 C435.00 797.79 438.80 796.84 442.00 794.70Z" fill="#fff" stroke="#eeeef0" stroke-width="0.9"/><path d="M436.60 801.13 C436.80 803.74 439.20 804.93 442.00 804.93 C444.80 804.93 447.20 803.74 447.40 801.13" fill="none" stroke="#5a3cc8" stroke-width="1.6" stroke-linecap="round"/><path d="M439.40 806.60 L442.00 810.17 L444.60 806.60" fill="none" stroke="#5a3cc8" stroke-width="1.5" stroke-linecap="round" stroke-linejoin="round"/><path d="M573.20 803.40 C576.78 805.24 581.04 806.16 584.40 806.27 L584.40 814.90 C584.40 821.34 578.13 824.79 573.20 826.40 C568.27 824.79 562.00 821.34 562.00 814.90 L562.00 806.27 C565.36 806.16 569.62 805.24 573.20 803.40Z" fill="#5d38ee"/><path d="M581.90 794.50 C585.20 796.64 589.11 797.59 592.20 797.71 L592.20 804.97 C592.20 811.64 586.84 815.92 581.90 818.30 C576.96 815.92 571.60 811.64 571.60 804.97 L571.60 797.71 C574.69 797.59 578.60 796.64 581.90 794.50Z" fill="#fff" stroke="#fff" stroke-width="2.4"/><path d="M581.90 794.50 C585.20 796.64 589.11 797.59 592.20 797.71 L592.20 804.97 C592.20 811.64 586.84 815.92 581.90 818.30 C576.96 815.92 571.60 811.64 571.60 804.97 L571.60 797.71 C574.69 797.59 578.60 796.64 581.90 794.50Z" fill="#fff" stroke="#eeeef0" stroke-width="0.9"/><path d="M576.34 800.93 C576.54 803.54 579.02 804.73 581.90 804.73 C584.78 804.73 587.26 803.54 587.46 800.93" fill="none" stroke="#5a3cc8" stroke-width="1.6" stroke-linecap="round"/><path d="M579.22 806.40 L581.90 809.97 L584.58 806.40" fill="none" stroke="#5a3cc8" stroke-width="1.5" stroke-linecap="round" stroke-linejoin="round"/><circle cx="735.2" cy="809.6" r="7.6" fill="#5d38ee"/><path d="M728.2 811.2 L719.3 820.6 L719.3 826.5 L725.6 826.5 L725.6 824.3 L727.8 824.3 L727.8 822.1 L730 822.1 L730 819.9 L732.4 819.9 L737 816Z" fill="#5d38ee"/><path d="M743.80 796.20 C746.81 798.22 750.38 799.11 753.20 799.22 L753.20 806.06 C753.20 812.33 748.31 816.36 743.80 818.60 C739.29 816.36 734.40 812.33 734.40 806.06 L734.40 799.22 C737.22 799.11 740.79 798.22 743.80 796.20Z" fill="#fff" stroke="#fff" stroke-width="2.4"/><path d="M743.80 796.20 C746.81 798.22 750.38 799.11 753.20 799.22 L753.20 806.06 C753.20 812.33 748.31 816.36 743.80 818.60 C739.29 816.36 734.40 812.33 734.40 806.06 L734.40 799.22 C737.22 799.11 740.79 798.22 743.80 796.20Z" fill="#fff" stroke="#eeeef0" stroke-width="0.9"/><path d="M738.72 802.25 C738.91 804.71 741.17 805.83 743.80 805.83 C746.43 805.83 748.69 804.71 748.88 802.25" fill="none" stroke="#5a3cc8" stroke-width="1.6" stroke-linecap="round"/><path d="M741.36 807.40 L743.80 810.76 L746.24 807.40" fill="none" stroke="#5a3cc8" stroke-width="1.5" stroke-linecap="round" stroke-linejoin="round"/><path d="M889.6 812 V808.5 A5.2 5.2 0 0 1 900 808.5 V812" fill="none" stroke="#5d38ee" stroke-width="2.1"/><rect x="886.3" y="810.8" width="17.6" height="13.4" rx="0.8" fill="#5d38ee"/><path d="M889.3 814.5 l3.4 2.9 l-3.4 2.9 M894.2 820.6 h4.4" fill="none" stroke="#fff" stroke-width="1.3"/><path d="M904.40 795.50 C907.57 797.59 911.33 798.52 914.30 798.63 L914.30 805.71 C914.30 812.20 909.15 816.38 904.40 818.70 C899.65 816.38 894.50 812.20 894.50 805.71 L894.50 798.63 C897.47 798.52 901.23 797.59 904.40 795.50Z" fill="#fff" stroke="#fff" stroke-width="2.4"/><path d="M904.40 795.50 C907.57 797.59 911.33 798.52 914.30 798.63 L914.30 805.71 C914.30 812.20 909.15 816.38 904.40 818.70 C899.65 816.38 894.50 812.20 894.50 805.71 L894.50 798.63 C897.47 798.52 901.23 797.59 904.40 795.50Z" fill="#fff" stroke="#eeeef0" stroke-width="0.9"/><path d="M899.05 801.76 C899.25 804.32 901.63 805.48 904.40 805.48 C907.17 805.48 909.55 804.32 909.75 801.76" fill="none" stroke="#5a3cc8" stroke-width="1.6" stroke-linecap="round"/><path d="M901.83 807.10 L904.40 810.58 L906.97 807.10" fill="none" stroke="#5a3cc8" stroke-width="1.5" stroke-linecap="round" stroke-linejoin="round"/><rect x="1104.2" y="809.3" width="17.6" height="14.8" rx="0.8" fill="#5d38ee"/><path d="M1106 812 h6" stroke="#9a86f5" stroke-width="0.9"/><path d="M1107 815.3 l3.3 2.7 l-3.3 2.7 M1111.8 821 h4.2" fill="none" stroke="#fff" stroke-width="1.3"/><path d="M1122.70 795.30 C1125.96 797.41 1129.84 798.34 1132.90 798.46 L1132.90 805.60 C1132.90 812.15 1127.60 816.36 1122.70 818.70 C1117.80 816.36 1112.50 812.15 1112.50 805.60 L1112.50 798.46 C1115.56 798.34 1119.44 797.41 1122.70 795.30Z" fill="#fff" stroke="#fff" stroke-width="2.4"/><path d="M1122.70 795.30 C1125.96 797.41 1129.84 798.34 1132.90 798.46 L1132.90 805.60 C1132.90 812.15 1127.60 816.36 1122.70 818.70 C1117.80 816.36 1112.50 812.15 1112.50 805.60 L1112.50 798.46 C1115.56 798.34 1119.44 797.41 1122.70 795.30Z" fill="#fff" stroke="#eeeef0" stroke-width="0.9"/><path d="M1117.19 801.62 C1117.40 804.19 1119.84 805.36 1122.70 805.36 C1125.56 805.36 1128.00 804.19 1128.21 801.62" fill="none" stroke="#5a3cc8" stroke-width="1.6" stroke-linecap="round"/><path d="M1120.05 807.00 L1122.70 810.51 L1125.35 807.00" fill="none" stroke="#5a3cc8" stroke-width="1.5" stroke-linecap="round" stroke-linejoin="round"/><rect x="1257.6" y="803" width="18.6" height="13.6" rx="1.2" fill="none" stroke="#5d38ee" stroke-width="2.1"/><path d="M1263.8 807.3 l-2.3 2.4 l2.3 2.4 M1267.6 807.3 l2.3 2.4 l-2.3 2.4" fill="none" stroke="#5d38ee" stroke-width="1.2"/><rect x="1254" y="818.7" width="25.5" height="3.9" rx="1.9" fill="#5d38ee"/><path d="M1277.50 794.80 C1280.16 796.56 1283.31 797.35 1285.80 797.45 L1285.80 803.42 C1285.80 808.91 1281.48 812.44 1277.50 814.40 C1273.52 812.44 1269.20 808.91 1269.20 803.42 L1269.20 797.45 C1271.69 797.35 1274.84 796.56 1277.50 794.80Z" fill="#fff" stroke="#fff" stroke-width="2.4"/><path d="M1277.50 794.80 C1280.16 796.56 1283.31 797.35 1285.80 797.45 L1285.80 803.42 C1285.80 808.91 1281.48 812.44 1277.50 814.40 C1273.52 812.44 1269.20 808.91 1269.20 803.42 L1269.20 797.45 C1271.69 797.35 1274.84 796.56 1277.50 794.80Z" fill="#fff" stroke="#eeeef0" stroke-width="0.9"/><path d="M1273.02 800.09 C1273.18 802.25 1275.18 803.23 1277.50 803.23 C1279.82 803.23 1281.82 802.25 1281.98 800.09" fill="none" stroke="#5a3cc8" stroke-width="1.6" stroke-linecap="round"/><path d="M1275.34 804.60 L1277.50 807.54 L1279.66 804.60" fill="none" stroke="#5a3cc8" stroke-width="1.5" stroke-linecap="round" stroke-linejoin="round"/><circle cx="1593.6" cy="812" r="5.1" fill="none" stroke="#5d38ee" stroke-width="4.6"/><path d="M1610.5 814.8 A5.2 5.2 0 1 1 1609.5 807.5" fill="none" stroke="#5d38ee" stroke-width="4.4" stroke-linecap="round"/><path d="M1612.30 794.80 C1615.05 796.64 1618.32 797.46 1620.90 797.57 L1620.90 803.82 C1620.90 809.56 1616.43 813.25 1612.30 815.30 C1608.17 813.25 1603.70 809.56 1603.70 803.82 L1603.70 797.57 C1606.28 797.46 1609.55 796.64 1612.30 794.80Z" fill="#fff" stroke="#fff" stroke-width="2.4"/><path d="M1612.30 794.80 C1615.05 796.64 1618.32 797.46 1620.90 797.57 L1620.90 803.82 C1620.90 809.56 1616.43 813.25 1612.30 815.30 C1608.17 813.25 1603.70 809.56 1603.70 803.82 L1603.70 797.57 C1606.28 797.46 1609.55 796.64 1612.30 794.80Z" fill="#fff" stroke="#eeeef0" stroke-width="0.9"/><path d="M1607.66 800.33 C1607.83 802.59 1609.89 803.62 1612.30 803.62 C1614.71 803.62 1616.77 802.59 1616.94 800.33" fill="none" stroke="#5a3cc8" stroke-width="1.6" stroke-linecap="round"/><path d="M1610.06 805.05 L1612.30 808.12 L1614.54 805.05" fill="none" stroke="#5a3cc8" stroke-width="1.5" stroke-linecap="round" stroke-linejoin="round"/><path d="M1905.6 809 V803 H1912.5 M1905.6 817 V823 H1912.5 M1922 823 H1929 V817" fill="none" stroke="#5d38ee" stroke-width="2"/><path d="M1909.6 812 L1911.6 808.3 H1922 L1924.2 812 V816.9 L1917 819.4 L1909.6 816.9Z" fill="#5d38ee"/><path d="M1910.6 812.4 h4 l2.3 -2.4 l2.3 2.4 h4" fill="none" stroke="#fff" stroke-width="0.9"/><path d="M1929.40 794.80 C1932.41 796.78 1935.98 797.66 1938.80 797.77 L1938.80 804.48 C1938.80 810.64 1933.91 814.60 1929.40 816.80 C1924.89 814.60 1920.00 810.64 1920.00 804.48 L1920.00 797.77 C1922.82 797.66 1926.39 796.78 1929.40 794.80Z" fill="#fff" stroke="#fff" stroke-width="2.4"/><path d="M1929.40 794.80 C1932.41 796.78 1935.98 797.66 1938.80 797.77 L1938.80 804.48 C1938.80 810.64 1933.91 814.60 1929.40 816.80 C1924.89 814.60 1920.00 810.64 1920.00 804.48 L1920.00 797.77 C1922.82 797.66 1926.39 796.78 1929.40 794.80Z" fill="#fff" stroke="#eeeef0" stroke-width="0.9"/><path d="M1924.32 800.74 C1924.51 803.16 1926.77 804.26 1929.40 804.26 C1932.03 804.26 1934.29 803.16 1934.48 800.74" fill="none" stroke="#5a3cc8" stroke-width="1.6" stroke-linecap="round"/><path d="M1926.96 805.80 L1929.40 809.10 L1931.84 805.80" fill="none" stroke="#5a3cc8" stroke-width="1.5" stroke-linecap="round" stroke-linejoin="round"/><g fill="none" stroke="#5d38ee" stroke-width="2.8" stroke-linecap="round"><path d="M2175.4 814.4 A4.7 4.7 0 1 1 2172.6 812.2"/><path d="M2171.6 816.6 L2174.5 813 L2177.2 809.6 A3.6 3.6 0 0 0 2172.6 806"/></g><path d="M2187.05 795.30 C2190.04 797.28 2193.59 798.16 2196.40 798.27 L2196.40 804.98 C2196.40 811.14 2191.54 815.10 2187.05 817.30 C2182.56 815.10 2177.70 811.14 2177.70 804.98 L2177.70 798.27 C2180.50 798.16 2184.06 797.28 2187.05 795.30Z" fill="#fff" stroke="#fff" stroke-width="2.4"/><path d="M2187.05 795.30 C2190.04 797.28 2193.59 798.16 2196.40 798.27 L2196.40 804.98 C2196.40 811.14 2191.54 815.10 2187.05 817.30 C2182.56 815.10 2177.70 811.14 2177.70 804.98 L2177.70 798.27 C2180.50 798.16 2184.06 797.28 2187.05 795.30Z" fill="#fff" stroke="#eeeef0" stroke-width="0.9"/><path d="M2182.00 801.24 C2182.19 803.66 2184.43 804.76 2187.05 804.76 C2189.67 804.76 2191.91 803.66 2192.10 801.24" fill="none" stroke="#5a3cc8" stroke-width="1.6" stroke-linecap="round"/><path d="M2184.62 806.30 L2187.05 809.60 L2189.48 806.30" fill="none" stroke="#5a3cc8" stroke-width="1.5" stroke-linecap="round" stroke-linejoin="round"/><path d="M2345 822.4 A6.3 6.3 0 0 1 2343.6 810 A8.6 8.6 0 0 1 2360 807.5 A7.6 7.6 0 0 1 2361 822.4Z" fill="#5d38ee"/><path d="M2364.35 795.30 C2367.34 797.28 2370.89 798.16 2373.70 798.27 L2373.70 804.98 C2373.70 811.14 2368.84 815.10 2364.35 817.30 C2359.86 815.10 2355.00 811.14 2355.00 804.98 L2355.00 798.27 C2357.80 798.16 2361.36 797.28 2364.35 795.30Z" fill="#fff" stroke="#fff" stroke-width="2.4"/><path d="M2364.35 795.30 C2367.34 797.28 2370.89 798.16 2373.70 798.27 L2373.70 804.98 C2373.70 811.14 2368.84 815.10 2364.35 817.30 C2359.86 815.10 2355.00 811.14 2355.00 804.98 L2355.00 798.27 C2357.80 798.16 2361.36 797.28 2364.35 795.30Z" fill="#fff" stroke="#eeeef0" stroke-width="0.9"/><path d="M2359.30 801.24 C2359.49 803.66 2361.73 804.76 2364.35 804.76 C2366.97 804.76 2369.21 803.66 2369.40 801.24" fill="none" stroke="#5a3cc8" stroke-width="1.6" stroke-linecap="round"/><path d="M2361.92 806.30 L2364.35 809.60 L2366.78 806.30" fill="none" stroke="#5a3cc8" stroke-width="1.5" stroke-linecap="round" stroke-linejoin="round"/><path d="M8 0C3.58 0 0 3.58 0 8c0 3.54 2.29 6.53 5.47 7.59.4.07.55-.17.55-.38 0-.19-.01-.82-.01-1.49-2.01.37-2.53-.49-2.69-.94-.09-.23-.48-.94-.82-1.13-.28-.15-.68-.52-.01-.53.63-.01 1.08.58 1.23.82.72 1.21 1.87.87 2.33.66.07-.52.28-.87.51-1.07-1.78-.2-3.64-.89-3.64-3.95 0-.87.31-1.59.82-2.15-.08-.2-.36-1.02.08-2.12 0 0 .67-.21 2.2.82.64-.18 1.32-.27 2-.27.68 0 1.36.09 2 .27 1.53-1.04 2.2-.82 2.2-.82.44 1.1.16 1.92.08 2.12.51.56.82 1.27.82 2.15 0 3.07-1.87 3.75-3.65 3.95.29.25.54.73.54 1.48 0 1.07-.01 1.93-.01 2.2 0 .21.15.46.55.38A8.013 8.013 0 0016 8c0-4.42-3.58-8-8-8z" fill="#2e2e2e" transform="translate(396.6 1009) scale(2.5125)"/><g transform="translate(917.4 962) scale(1.0)" fill="none" stroke="#f2b51d" stroke-width="1.5" stroke-linecap="round"><path d="M5.6 6.0 L4.2 7.4 A2.5 2.5 0 1 0 7.6 10.6 L8.6 9.6"/><path d="M6.6 5.0 L7.8 3.8 A2.5 2.5 0 1 1 11.2 7.2 L9.9 8.5"/><path d="M3.6 3.2 L10.4 10.6"/></g><g transform="translate(987.2 958.6) scale(1.0)" fill="none" stroke="#f2b51d" stroke-width="1.5" stroke-linecap="round"><path d="M5.6 6.0 L4.2 7.4 A2.5 2.5 0 1 0 7.6 10.6 L8.6 9.6"/><path d="M6.6 5.0 L7.8 3.8 A2.5 2.5 0 1 1 11.2 7.2 L9.9 8.5"/><path d="M3.6 3.2 L10.4 10.6"/></g><g transform="translate(1701.2 1032.4) scale(1.0)" fill="none" stroke="#f2b51d" stroke-width="1.5" stroke-linecap="round"><path d="M5.6 6.0 L4.2 7.4 A2.5 2.5 0 1 0 7.6 10.6 L8.6 9.6"/><path d="M6.6 5.0 L7.8 3.8 A2.5 2.5 0 1 1 11.2 7.2 L9.9 8.5"/><path d="M3.6 3.2 L10.4 10.6"/></g><g transform="translate(1759.4 1034) scale(1.0)" fill="none" stroke="#f2b51d" stroke-width="1.5" stroke-linecap="round"><path d="M5.6 6.0 L4.2 7.4 A2.5 2.5 0 1 0 7.6 10.6 L8.6 9.6"/><path d="M6.6 5.0 L7.8 3.8 A2.5 2.5 0 1 1 11.2 7.2 L9.9 8.5"/><path d="M3.6 3.2 L10.4 10.6"/></g><g transform="translate(2255.2 1035) scale(1.0)" fill="none" stroke="#f2b51d" stroke-width="1.5" stroke-linecap="round"><path d="M5.6 6.0 L4.2 7.4 A2.5 2.5 0 1 0 7.6 10.6 L8.6 9.6"/><path d="M6.6 5.0 L7.8 3.8 A2.5 2.5 0 1 1 11.2 7.2 L9.9 8.5"/><path d="M3.6 3.2 L10.4 10.6"/></g><rect x="888.6" y="944.5" width="26.4" height="25.4" fill="#dfdfe1"/><rect x="908" y="944.5" width="7" height="25.4" fill="#ebebed"/><path d="M896.2 936.4 L899.6 948 L904 948 L907.4 936.4 L911.6 949 L910.6 966 L902 977.3 L893.4 966 L892 949Z" fill="#3b3865"/><path d="M896.1 940.5 L897.6 948 L894 949.5Z M907.5 940.5 L906 948 L909.6 949.5Z" fill="#c9bccb"/><path d="M897 960 L899.4 959 L899.6 968 L897.6 967Z M906.6 960 L904.2 959 L904 968 L906 967Z" fill="#d9a78f"/><rect x="896.6" y="953.6" width="3" height="1.3" fill="#b6b0d8"/><rect x="904" y="953.6" width="3" height="1.3" fill="#b6b0d8"/><path d="M901.8 949 L901.8 976" stroke="#4a4778" stroke-width="0.6"/><path d="M966.8 933.5 L984.6 943.2 V962.2 L966.8 971.8 L949 962.2 V943.2Z" fill="#0d6ad8" stroke="#0d6ad8" stroke-width="2.2" stroke-linejoin="round"/><rect x="965.3" y="941.3" width="3.2" height="6" fill="#fff"/><path d="M957 946.4 H976.6 V951 H978 V957.5 H976.6 V961.6 H957 V957.5 H955.6 V951 H957Z" fill="#fff"/><path d="M960.2 953.6 l1.5 1.6 l2.6 -2.6 M968.4 953.6 l1.5 1.6 l2.6 -2.6" fill="none" stroke="#1c5fc0" stroke-width="1.3"/><circle cx="1586.7" cy="1029.2" r="12.4" fill="none" stroke="#3a3560" stroke-width="8.2"/><rect x="1569" y="1025.9" width="9.2" height="6.6" fill="#fff"/><circle cx="1586.7" cy="1029.2" r="4.2" fill="#3a3560"/><g fill="none" stroke="#2f89e6" stroke-width="1.5"><circle cx="1626.6" cy="1018" r="7.6"/><path d="M1624.4 1014.2 L1630.4 1018 L1624.4 1021.8Z" stroke-linejoin="round"/><circle cx="1637.8" cy="1029.8" r="4.7"/><circle cx="1652.3" cy="1029.8" r="4.7"/><circle cx="1637.8" cy="1043.3" r="4.7"/><path d="M1626.2 1025.6 V1037 Q1626.2 1043.3 1633 1043.3 M1626.2 1025.6 Q1626.6 1029.8 1633 1029.8 M1642.6 1029.8 H1647.5"/><path d="M1635.7 1029.9 l1.5 1.5 l2.7 -2.8 M1650.2 1029.9 l1.5 1.5 l2.7 -2.8" stroke-width="1.2"/></g><g fill="none" stroke="#8fc0f5" stroke-width="1.5"><circle cx="1652.3" cy="1043.3" r="4.7"/><path d="M1642.6 1043.3 H1647.5"/></g><circle cx="1636.2" cy="1043.3" r="0.8" fill="#8fc0f5"/><circle cx="1639.4" cy="1043.3" r="0.8" fill="#8fc0f5"/><path d="M1679.2 1011.5 L1675.3 1022.6 H1683Z M1697.6 1011.5 L1701.5 1022.6 H1693.8Z M1683 1022.6 H1693.8 L1688.4 1038.1Z" fill="#e24329"/><path d="M1675.3 1022.6 H1683 L1688.4 1038.1Z M1701.5 1022.6 H1693.8 L1688.4 1038.1Z" fill="#fc6d26"/><path d="M1675.3 1022.6 L1673.4 1027 L1688.4 1038.1Z M1701.5 1022.6 L1703.4 1027 L1688.4 1038.1Z" fill="#fca326"/><circle cx="1744.2" cy="1027" r="13.4" fill="#d33833" stroke="#5a1f22" stroke-width="0.8"/><path d="M1734.5 1046 Q1733 1034 1740 1031 L1752 1031 Q1758 1035 1756 1044 Q1746 1049 1734.5 1046Z" fill="#335061"/><ellipse cx="1746.2" cy="1021.5" rx="7.4" ry="9" fill="#f0d6b7"/><path d="M1738.5 1024 Q1736 1012 1745 1010 Q1752 1009.5 1754 1014 Q1746 1012 1741.5 1016 Q1741 1021 1738.5 1024Z" fill="#4a4a58"/><path d="M1743 1031.5 l3 2 l3 -2 v4 l-3 -1.6 l-3 1.6Z" fill="#d33833"/><path d="M1747 1026 q2.5 2 5 0" fill="none" stroke="#7a4a3a" stroke-width="0.8"/><path d="M1745 1019.5 h2.4 M1750 1019.5 h2.2" stroke="#4a3a3a" stroke-width="0.8"/><path d="M1741.4 1037.6 H1748.8 L1748 1047 H1742.4Z" fill="#fff" stroke="#555" stroke-width="0.7"/><rect x="1751" y="1036.5" width="5" height="4.2" rx="1" fill="#f4f4f4" stroke="#666" stroke-width="0.5"/><g fill="none" stroke="#df8a45" stroke-width="1.1" stroke-linejoin="round"><path d="M1904.5 1016.8 L1917.2 1024 V1038.6 L1904.5 1045.9 L1891.8 1038.6 V1024Z"/><path d="M1904.5 1045.9 V1031.6 L1917.2 1024"/><path d="M1906.5 1044.4 V1039.8 L1910.8 1037.3 V1031.4 L1915.2 1028.9 V1026.6"/><path d="M1906.5 1039.8 L1906.5 1032.8 L1915.2 1027.8"/></g><g transform="translate(1935 0)"><path d="M6.6 1019.4 L0 1024 V1041.4 L6.6 1046 L7.4 1042.8 L3.4 1040 V1025.4 L7.4 1022.6Z" fill="#2c5cc0"/><path d="M24.4 1019.4 L31 1024 V1041.4 L24.4 1046 L23.6 1042.8 L27.6 1040 V1025.4 L23.6 1022.6Z" fill="#2c5cc0"/><polygon points="15.50,1021.90 19.22,1024.05 19.22,1028.35 15.50,1030.50 11.78,1028.35 11.78,1024.05" fill="#3b78e7"/><path d="M15.5 1026.2 V1030.5 M15.5 1026.2 L11.9 1024.1 M15.5 1026.2 L19.1 1024.1" stroke="#fff" stroke-opacity="0.35" stroke-width="0.6"/><polygon points="10.30,1031.10 14.02,1033.25 14.02,1037.55 10.30,1039.70 6.58,1037.55 6.58,1033.25" fill="#3b78e7"/><path d="M10.3 1035.4 V1039.7 M10.3 1035.4 L6.7 1033.3 M10.3 1035.4 L13.9 1033.3" stroke="#fff" stroke-opacity="0.35" stroke-width="0.6"/><polygon points="20.70,1031.10 24.42,1033.25 24.42,1037.55 20.70,1039.70 16.98,1037.55 16.98,1033.25" fill="#3b78e7"/><path d="M20.7 1035.4 V1039.7 M20.7 1035.4 L17.1 1033.3 M20.7 1035.4 L24.3 1033.3" stroke="#fff" stroke-opacity="0.35" stroke-width="0.6"/></g><g transform="translate(1981 0)"><path d="M6.6 1019.4 L0 1024 V1041.4 L6.6 1046 L7.4 1042.8 L3.4 1040 V1025.4 L7.4 1022.6Z" fill="#a3bff2"/><path d="M24.4 1019.4 L31 1024 V1041.4 L24.4 1046 L23.6 1042.8 L27.6 1040 V1025.4 L23.6 1022.6Z" fill="#a3bff2"/><polygon points="15.50,1021.90 19.22,1024.05 19.22,1028.35 15.50,1030.50 11.78,1028.35 11.78,1024.05" fill="#5e9af4"/><path d="M15.5 1026.2 V1030.5 M15.5 1026.2 L11.9 1024.1 M15.5 1026.2 L19.1 1024.1" stroke="#fff" stroke-opacity="0.35" stroke-width="0.6"/><polygon points="10.30,1031.10 14.02,1033.25 14.02,1037.55 10.30,1039.70 6.58,1037.55 6.58,1033.25" fill="#5e9af4"/><path d="M10.3 1035.4 V1039.7 M10.3 1035.4 L6.7 1033.3 M10.3 1035.4 L13.9 1033.3" stroke="#fff" stroke-opacity="0.35" stroke-width="0.6"/><polygon points="20.70,1031.10 24.42,1033.25 24.42,1037.55 20.70,1039.70 16.98,1037.55 16.98,1033.25" fill="#5e9af4"/><path d="M20.7 1035.4 V1039.7 M20.7 1035.4 L17.1 1033.3 M20.7 1035.4 L24.3 1033.3" stroke="#fff" stroke-opacity="0.35" stroke-width="0.6"/></g><path d="M2160.5 1045.6 A9.6 9.6 0 0 1 2158 1026.8 A15 15 0 0 1 2186 1021.5 A7.8 7.8 0 0 1 2196.5 1028.6 A8.8 8.8 0 0 1 2194.5 1045.6Z" fill="#f7991f"/><text x="2176" y="1040.6" font-family="Liberation Sans, sans-serif" font-weight="bold" font-size="17.4" fill="#fff3d4" text-anchor="middle" textLength="30.5" lengthAdjust="spacingAndGlyphs">AWS</text><g fill="none" stroke-width="6.2"><path d="M2227.6 1021.6 A11.2 11.2 0 0 1 2247.4 1018.4" stroke="#ea4335"/><path d="M2245.2 1016.2 A11.2 11.2 0 0 1 2249 1025 A6.4 6.4 0 0 1 2247.2 1037.4 L2238 1037.4" stroke="#4285f4"/><path d="M2238.2 1037.4 H2228.5" stroke="#34a853"/><path d="M2231 1037.4 A7 7 0 0 1 2226 1024.6 A7 7 0 0 1 2236.5 1025.5" stroke="#fbbc05"/></g></svg>
<div class="b" style="left:0.0px;top:371.0px;width:336.0px;height:5.5px;background:#8c8c8c;"></div>
<div class="b" style="left:0.0px;top:371.0px;width:7.0px;height:5.5px;background:#6c6c6c;"></div>
<div class="b" style="left:341.0px;top:371.5px;width:197.0px;height:4.5px;background:rgba(0,0,0,0.05);"></div>
<div class="b" style="left:538.0px;top:0.0px;width:6.0px;height:248.0px;background:#787878;"></div>
<div class="b" style="left:538.0px;top:248.0px;width:6.0px;height:5.0px;background:#bdbdbd;"></div>
<div class="b" style="left:538.0px;top:253.0px;width:5.0px;height:118.0px;background:rgba(0,0,0,0.04);"></div>
<div class="b" style="left:0;top:0;width:538px;height:371.5px;border-radius:13px;background:linear-gradient(192deg,#f4896a 0%,#ee7f80 35%,#d9659a 62%,#9a46b0 90%,#8e44ad 100%);"></div>
<div class="b" style="left:2.0px;top:2.0px;width:534.0px;height:367.5px;background:#fff;border-radius:11px;"></div>
<div class="t" style="left:30.0px;top:38.00px;font-size:26px;line-height:26px;color:#4b4870;transform:scaleX(0.9059);transform-origin:left center;">Top Business Units with SLA Overdue Issues</div>
<div class="b" style="left:31.0px;top:86.0px;width:475.5px;height:253.5px;background:#fff;border-radius:13px;border:1.5px solid #e9e9ee;box-sizing:border-box;"></div>
<div class="t" style="left:46.3px;top:114.00px;font-size:16.6px;line-height:16.6px;color:#b4b3c3;letter-spacing:0.240px;-webkit-text-stroke:0.3px #b4b3c3;">Business unit name</div>
<div class="t" style="left:363.0px;top:114.00px;font-size:16.6px;line-height:16.6px;color:#b4b3c3;letter-spacing:0.433px;-webkit-text-stroke:0.3px #b4b3c3;">Overdue</div>
<svg style="left:438.3px;top:116.8px" width="9" height="13" viewBox="0 0 9 13"><path d="M4.5 0.5 L8.5 5.4 H0.5Z" fill="#9250c8"/><path d="M4.5 11.6 L8.5 6.7 H0.5Z" fill="#c9a8e6"/></svg>
<div class="t" style="left:46.3px;top:169.00px;font-size:16.6px;line-height:16.6px;color:#5b5879;letter-spacing:-0.294px;">DevOps</div>
<div class="bd" style="left:366.0px;top:161.0px;width:30px;height:30px;line-height:31.6px;background:#dcbcbc;color:#7b2b2b;font-size:16.2px;-webkit-text-stroke:0.3px #7b2b2b">27</div>
<div class="bd" style="left:402.8px;top:161.0px;width:30px;height:30px;line-height:31.6px;background:#fdd0c9;color:#e5483f;font-size:16.2px;-webkit-text-stroke:0.3px #e5483f">82</div>
<div class="b" style="left:46.0px;top:197.3px;width:447.0px;height:1.2px;background:#e6e6ea;"></div>
<div class="t" style="left:46.3px;top:212.00px;font-size:16.6px;line-height:16.6px;color:#5b5879;letter-spacing:-0.155px;">Front End</div>
<div class="bd" style="left:366.0px;top:204.0px;width:30px;height:30px;line-height:31.6px;background:#dcbcbc;color:#7b2b2b;font-size:16.2px;-webkit-text-stroke:0.3px #7b2b2b">19</div>
<div class="bd" style="left:402.8px;top:204.0px;width:30px;height:30px;line-height:31.6px;background:#fdd0c9;color:#e5483f;font-size:16.2px;-webkit-text-stroke:0.3px #e5483f">65</div>
<div class="b" style="left:46.0px;top:240.3px;width:447.0px;height:1.2px;background:#e6e6ea;"></div>
<div class="t" style="left:46.3px;top:255.00px;font-size:16.6px;line-height:16.6px;color:#5b5879;letter-spacing:-0.219px;">Back End</div>
<div class="bd" style="left:366.0px;top:247.0px;width:30px;height:30px;line-height:31.6px;background:#e6d6f6;color:#8b4fcb;font-size:16.2px;-webkit-text-stroke:0.3px #8b4fcb">1</div>
<div class="bd" style="left:402.8px;top:247.0px;width:30px;height:30px;line-height:31.6px;background:#dcbcbc;color:#7b2b2b;font-size:16.2px;-webkit-text-stroke:0.3px #7b2b2b">17</div>
<div class="bd" style="left:439.6px;top:247.0px;width:30px;height:30px;line-height:31.6px;background:#fdd0c9;color:#e5483f;font-size:16.2px;-webkit-text-stroke:0.3px #e5483f">44</div>
<div class="b" style="left:46.0px;top:283.3px;width:447.0px;height:1.2px;background:#e6e6ea;"></div>
<div class="t" style="left:46.3px;top:298.00px;font-size:16.6px;line-height:16.6px;color:#5b5879;letter-spacing:-0.382px;">Business Team</div>
<div class="bd" style="left:366.0px;top:290.0px;width:30px;height:30px;line-height:31.6px;background:#dcbcbc;color:#7b2b2b;font-size:16.2px;-webkit-text-stroke:0.3px #7b2b2b">3</div>
<div class="bd" style="left:402.8px;top:290.0px;width:30px;height:30px;line-height:31.6px;background:#fdd0c9;color:#e5483f;font-size:16.2px;-webkit-text-stroke:0.3px #e5483f">33</div>
<div class="b" style="left:1688.0px;top:167.8px;width:900.0px;height:8.5px;background:#7c7c7c;"></div>
<div class="b" style="left:1680.0px;top:175.8px;width:5.0px;height:72.4px;background:#8a8a8a;"></div>
<div class="b" style="left:1680.0px;top:248.0px;width:5.0px;height:4.5px;background:#c4c4c4;"></div>
<div class="b" style="left:1684.5px;top:175.3px;width:875.5px;height:431.2px;border-radius:9px;background:linear-gradient(180deg,#e8909a 0%,#c58ad8 35%,#a86cd0 100%);"></div>
<div class="b" style="left:1686.0px;top:176.8px;width:872.5px;height:428.2px;background:#fff;border-radius:8px;"></div>
<div class="b" style="left:1705.4px;top:201.4px;width:12.6px;height:12.6px;background:#9149c8;border-radius:6.3px;"></div>
<div class="t" style="left:1726.2px;top:197.00px;font-size:23.5px;line-height:23.5px;color:#3e3a63;font-weight:bold;letter-spacing:0.137px;">Overdue</div>
<div class="b" style="left:1997.0px;top:201.4px;width:12.6px;height:12.6px;background:#fbad05;border-radius:6.3px;"></div>
<div class="t" style="left:2018.2px;top:197.00px;font-size:23.5px;line-height:23.5px;color:#3e3a63;font-weight:bold;letter-spacing:0.184px;">Approaching Due</div>
<div class="b" style="left:2288.7px;top:201.4px;width:12.6px;height:12.6px;background:#fd9270;border-radius:6.3px;"></div>
<div class="t" style="left:2309.5px;top:197.00px;font-size:23.5px;line-height:23.5px;color:#3e3a63;font-weight:bold;letter-spacing:0.053px;">On Track</div>
<div class="t" style="left:1705.7px;top:238.00px;font-size:16.2px;line-height:16.2px;color:#3e3a63;font-weight:bold;letter-spacing:-0.154px;">Issues Distribution by Severity</div>
<div class="t" style="left:1705.7px;top:278.00px;font-size:16px;line-height:16px;color:#55517a;letter-spacing:0.125px;">Appoxalypse</div>
<div class="t" style="left:1997.0px;top:278.00px;font-size:16px;line-height:16px;color:#55517a;letter-spacing:0.263px;">Critical</div>
<div class="t" style="left:2288.7px;top:278.00px;font-size:16px;line-height:16px;color:#55517a;letter-spacing:0.398px;">High</div>
<svg style="left:0;top:0" width="2560" height="1105" viewBox="0 0 2560 1105"><path d="M1861.48 338.74 A126 126 0 1 1 1831.00 335.00 L1831.00 393.50 A67.5 67.5 0 1 0 1847.33 395.51Z" fill="#9149c8"/><path d="M1831.00 335.00 A126 126 0 0 1 1861.48 338.74 L1847.33 395.51 A67.5 67.5 0 0 0 1831.00 393.50Z" fill="#fbad05"/><path d="M2122.80 587.00 A126 126 0 0 1 2122.80 335.00 L2122.80 393.50 A67.5 67.5 0 0 0 2122.80 528.50Z" fill="#9149c8"/><path d="M2122.80 335.00 A126 126 0 0 1 2243.55 497.00 L2187.49 480.28 A67.5 67.5 0 0 0 2122.80 393.50Z" fill="#fbad05"/><path d="M2243.55 497.00 A126 126 0 0 1 2122.80 587.00 L2122.80 528.50 A67.5 67.5 0 0 0 2187.49 480.28Z" fill="#fd9270"/><path d="M2414.60 587.00 A126 126 0 0 1 2414.60 335.00 L2414.60 393.50 A67.5 67.5 0 0 0 2414.60 528.50Z" fill="#9149c8"/><path d="M2414.60 335.00 A126 126 0 0 1 2535.35 497.00 L2479.29 480.28 A67.5 67.5 0 0 0 2414.60 393.50Z" fill="#fbad05"/><path d="M2535.35 497.00 A126 126 0 0 1 2414.60 587.00 L2414.60 528.50 A67.5 67.5 0 0 0 2479.29 480.28Z" fill="#fd9270"/></svg>
<div class="t" style="left:1531.7px;width:600px;text-align:center;top:438.00px;font-size:21.6px;line-height:21.6px;color:#55517a;">1</div>
<div class="t" style="left:1531.7px;width:600px;text-align:center;top:468.00px;font-size:20.4px;line-height:20.4px;color:#55517a;letter-spacing:-0.593px;text-indent:-0.593px;">Issues</div>
<div class="t" style="left:1826.6px;width:600px;text-align:center;top:438.00px;font-size:21.6px;line-height:21.6px;color:#55517a;">43</div>
<div class="t" style="left:1826.6px;width:600px;text-align:center;top:468.00px;font-size:20.4px;line-height:20.4px;color:#55517a;letter-spacing:-0.593px;text-indent:-0.593px;">Issues</div>
<div class="t" style="left:2115.2px;width:600px;text-align:center;top:438.00px;font-size:21.6px;line-height:21.6px;color:#55517a;">139</div>
<div class="t" style="left:2115.2px;width:600px;text-align:center;top:468.00px;font-size:20.4px;line-height:20.4px;color:#55517a;letter-spacing:-0.593px;text-indent:-0.593px;">Issues</div>
</body></html>
